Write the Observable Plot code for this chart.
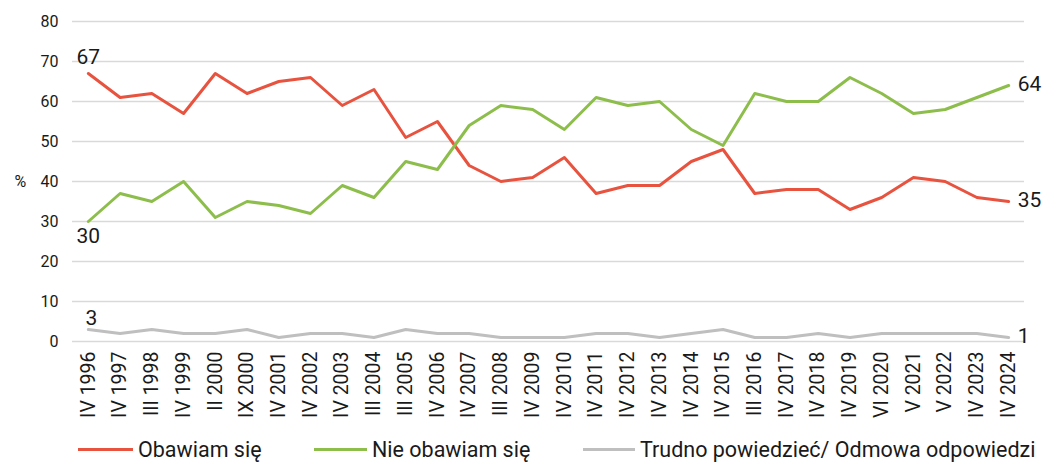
<!DOCTYPE html>
<html>
<head>
<meta charset="utf-8">
<script src="https://cdn.jsdelivr.net/npm/d3@7"></script>
<script src="https://cdn.jsdelivr.net/npm/@observablehq/plot@0.6"></script>
<style>
  html, body { margin: 0; padding: 0; background: #fff; overflow: hidden; }
  body { font-family: Roboto, "Noto Sans", sans-serif; color: #1a1a1a; }
  #wrap { position: relative; width: 1056px; height: 462px; }
  #legend { position: relative; width: 1056px; height: 30px; }
  .item { position: absolute; top: -3px; height: 40px; display: flex; align-items: center; font-size: 21.5px; white-space: nowrap; }
  .swatch { display: inline-block; height: 3px; margin-right: 5px; }
</style>
</head>
<body>
<div id="wrap">
  <div id="chart"></div>
  <div id="legend"></div>
</div>
<script>
const categories = ["IV 1996","IV 1997","III 1998","IV 1999","II 2000","IX 2000","IV 2001","IV 2002","IV 2003","III 2004","III 2005","IV 2006","IV 2007","III 2008","IV 2009","IV 2010","IV 2011","IV 2012","IV 2013","IV 2014","IV 2015","III 2016","IV 2017","IV 2018","IV 2019","VI 2020","V 2021","V 2022","IV 2023","IV 2024"];
const obawiam = [67,61,62,57,67,62,65,66,59,63,51,55,44,40,41,46,37,39,39,45,48,37,38,38,33,36,41,40,36,35];
const nieObawiam = [30,37,35,40,31,35,34,32,39,36,45,43,54,59,58,53,61,59,60,53,49,62,60,60,66,62,57,58,61,64];
const trudno = [3,2,3,2,2,3,1,2,2,1,3,2,2,1,1,1,2,2,1,2,3,1,1,2,1,2,2,2,2,1];
const seriesNames = ["Obawiam się","Nie obawiam się","Trudno powiedzieć/ Odmowa odpowiedzi"];
const seriesColors = ["#E8533F","#8DBE4C","#BFBFBF"];
const yTicks = [0,10,20,30,40,50,60,70,80];

const seriesValues = [obawiam, nieObawiam, trudno];
const rows = [];
seriesValues.forEach((vals, s) => vals.forEach((v, i) => rows.push({cat: categories[i], value: v, series: seriesNames[s]})));
const first = seriesValues.map((vals, s) => ({cat: categories[0], value: vals[0], series: seriesNames[s]}));
const last = seriesValues.map((vals, s) => ({cat: categories[categories.length-1], value: vals[vals.length-1], series: seriesNames[s]}));

const chart = Plot.plot({
  width: 1056,
  height: 432,
  marginTop: 21,
  marginBottom: 91,
  marginLeft: 72,
  marginRight: 32,
  style: {fontFamily: "Roboto, 'Noto Sans', sans-serif", color: "#1a1a1a", background: "#fff"},
  x: {type: "point", domain: categories, padding: 0.5, round: false},
  y: {domain: [0, 80]},
  color: {domain: seriesNames, range: seriesColors},
  marks: [
    Plot.ruleY(yTicks, {stroke: "#d9d9d9", strokeWidth: 1.5}),
    Plot.axisY({ticks: yTicks, tickSize: 0, tickPadding: 14, fontSize: 16, label: null}),
    Plot.axisX({tickRotate: -90, tickSize: 0, tickPadding: 10, fontSize: 19.5, label: null}),
    Plot.text(["%"], {frameAnchor: "left", dx: -58, fontSize: 16, fill: "#1a1a1a"}),
    Plot.line(rows, {x: "cat", y: "value", z: "series", stroke: "series", strokeWidth: 3}),
    Plot.text([first[0]], {x: "cat", y: "value", text: d => String(d.value), dy: -16, fontSize: 21, fill: "#1a1a1a"}),
    Plot.text([first[1]], {x: "cat", y: "value", text: d => String(d.value), dy: 15, fontSize: 21, fill: "#1a1a1a"}),
    Plot.text([first[2]], {x: "cat", y: "value", text: d => String(d.value), dy: -11, dx: 3, fontSize: 21, fill: "#1a1a1a"}),
    Plot.text(last, {x: "cat", y: "value", text: d => String(d.value), dx: 9, dy: -1, textAnchor: "start", fontSize: 21, fill: "#1a1a1a"})
  ]
});
document.getElementById("chart").appendChild(chart);

const legendX = [78, 314, 583];
const swatchW = [55, 53, 52];
const legend = document.getElementById("legend");
seriesNames.forEach((name, i) => {
  const it = document.createElement("div");
  it.className = "item";
  it.style.left = legendX[i] + "px";
  const sw = document.createElement("span");
  sw.className = "swatch";
  sw.style.width = swatchW[i] + "px";
  sw.style.background = seriesColors[i];
  it.appendChild(sw);
  it.appendChild(document.createTextNode(name));
  legend.appendChild(it);
});
</script>
</body>
</html>
